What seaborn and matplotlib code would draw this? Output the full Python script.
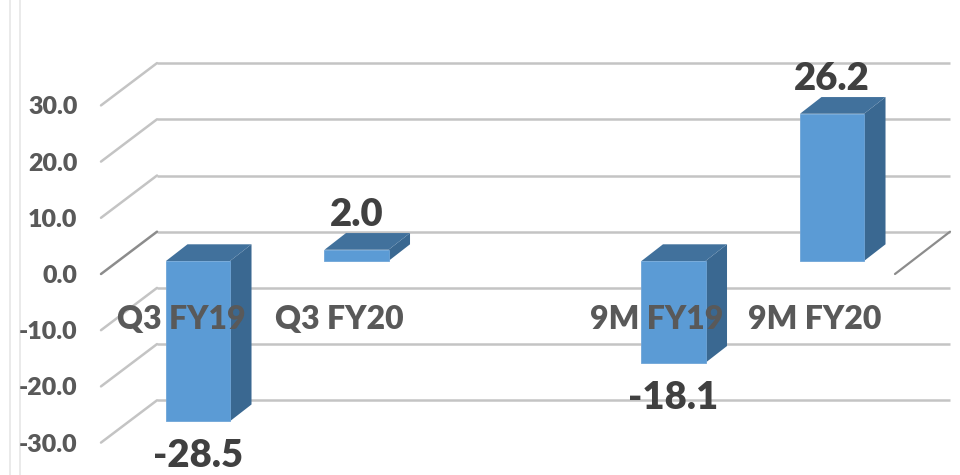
import matplotlib
matplotlib.use("Agg")
import matplotlib.pyplot as plt
from matplotlib.patches import Polygon
from matplotlib.ticker import FormatStrFormatter
from matplotlib.transforms import ScaledTranslation
import numpy as np
import pandas as pd
import seaborn as sns

periods = ["Q3 FY19", "Q3 FY20", " ", "9M FY19", "9M FY20"]
growth = [-28.5, 2.0, np.nan, -18.1, 26.2]
y_ticks = [-30, -20, -10, 0, 10, 20, 30]

BAR_FRONT = "#5B9BD5"
BAR_TOP = "#41719C"
BAR_SIDE = "#3A6891"
GRID = "#C4C4C4"
AXIS_DARK = "#8C8C8C"

# pixel scale of the reference, the axes fill the whole figure
W, H = 960, 475
PX_X = 158.5   # px per category
PX_Y = 5.62    # px per unit
X0_PX, Y0_PX = 198, 261

# fake 3d depth, in data units
BACK_DY = 29.3 / PX_Y
FRONT_DY = -13 / PX_Y
BAR_DX = 21.5 / PX_X
BAR_DY = 16.7 / PX_Y

sns.set_theme(style="white")
plt.rcParams["font.family"] = ["Lato", "DejaVu Sans"]
plt.rcParams["axes.unicode_minus"] = False

df = pd.DataFrame({"period": periods, "growth": growth})

fig = plt.figure(figsize=(W / 100, H / 100), dpi=100)
ax = fig.add_axes([0, 0, 1, 1])
sns.barplot(data=df, x="period", y="growth", order=periods, color=BAR_FRONT,
            saturation=1, width=0.404, edgecolor="#6FA5D8", linewidth=0.6,
            zorder=4, ax=ax)
ax.set_xlim(-X0_PX / PX_X, (W - X0_PX) / PX_X)
ax.set_ylim(-(H - Y0_PX) / PX_Y, Y0_PX / PX_Y)
ax.set_xlabel("")
ax.set_ylabel("")

# back wall lines and the slanted floor edges
wall_x = (157 - X0_PX) / PX_X
wall_end = (950 - X0_PX) / PX_X
tick_x = (101 - X0_PX) / PX_X
for v in y_ticks:
    ax.plot([wall_x, wall_end], [v + BACK_DY] * 2, color=GRID, lw=1.8, zorder=1,
            solid_capstyle="butt")
    ax.plot([tick_x, wall_x], [v + FRONT_DY, v + BACK_DY],
            color=AXIS_DARK if v == 0 else GRID, lw=1.8, zorder=1)
ax.plot([(895 - X0_PX) / PX_X, wall_end], [FRONT_DY, BACK_DY], color=AXIS_DARK,
        lw=1.6, zorder=1)

# faint lines at the left edge
for px in (10, 20):
    ax.axvline((px - X0_PX) / PX_X, color="#E6E6E6", lw=1.2, zorder=0)

# side and top faces from each bar seaborn drew
for bar in ax.patches:
    x0, x1 = bar.get_x(), bar.get_x() + bar.get_width()
    lo, hi = sorted([bar.get_y(), bar.get_y() + bar.get_height()])
    side = [(x1, lo), (x1 + BAR_DX, lo + BAR_DY), (x1 + BAR_DX, hi + BAR_DY), (x1, hi)]
    top = [(x0, hi), (x0 + BAR_DX, hi + BAR_DY), (x1 + BAR_DX, hi + BAR_DY), (x1, hi)]
    ax.add_patch(Polygon(side, closed=True, fc=BAR_SIDE, ec="none", zorder=3))
    ax.add_patch(Polygon(top, closed=True, fc=BAR_TOP, ec="none", zorder=3))

# data labels
ax.bar_label(ax.containers[0], fmt="%.1f", padding=13, fontsize=27.5, fontweight="heavy",
             color="#404040", zorder=6)

# ticks sit on the slanted floor, so the labels get shifted off their true spot
for name in ("top", "right", "left", "bottom"):
    ax.spines[name].set_visible(False)
ax.spines["left"].set_position(("data", tick_x))
ax.spines["bottom"].set_position(("data", 0))
ax.set_yticks(y_ticks)
ax.yaxis.set_major_formatter(FormatStrFormatter("%.1f"))
ax.tick_params(axis="y", length=0, pad=17, labelsize=18, labelcolor="#595959")
ax.tick_params(axis="x", length=0, pad=32, labelsize=23, labelcolor="#595959")
ax.set_xticks(range(len(periods)))
ax.set_xticklabels(periods)
ax.xaxis.set_zorder(6)
ax.yaxis.set_zorder(6)
for lab in ax.get_yticklabels():
    lab.set_fontweight("heavy")
    lab.set_transform(lab.get_transform() + ScaledTranslation(0, 13 * -0.01, fig.dpi_scale_trans))
for lab in ax.get_xticklabels():
    lab.set_fontweight("heavy")
    lab.set_transform(lab.get_transform() + ScaledTranslation(-17 * 0.01, 0, fig.dpi_scale_trans))

fig.savefig("out.png", dpi=100)
